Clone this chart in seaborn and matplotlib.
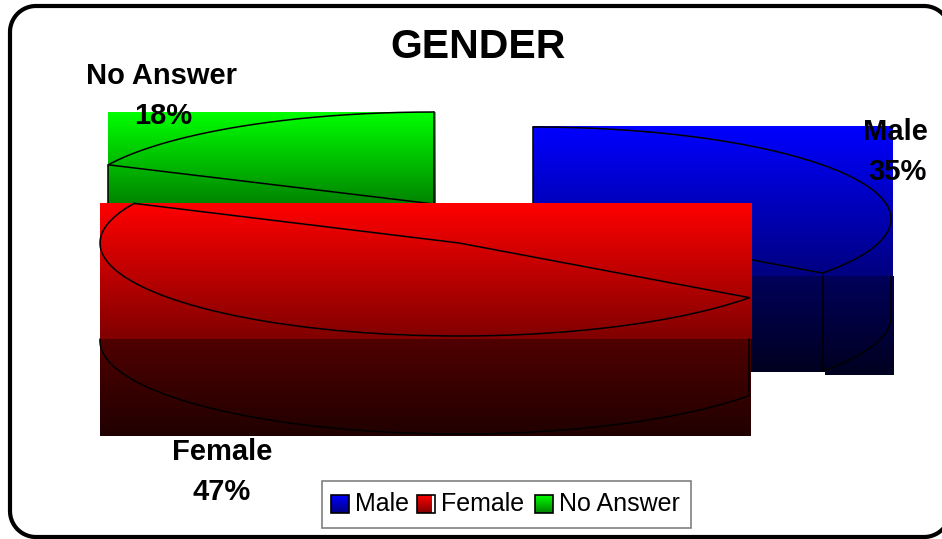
"""Recreate the GENDER exploded 3D pie chart."""

import matplotlib.pyplot as plt
import numpy as np
import seaborn as sns
from matplotlib.patches import Rectangle

categories = ["Male", "Female", "No Answer"]
shares = [35, 47, 18]
share_labels = ["35%", "47%", "18%"]
title = "GENDER"

# each slice: ellipse centre and radii in pixels, gradient colours
SLICES = {
    "Male": dict(cx=533, cy=219, rx=358, ry=92, top=("#0000ff", "#000080"), wall=("#00005a", "#000020")),
    "Female": dict(cx=459, cy=243, rx=359, ry=93, top=("#ff0000", "#800000"), wall=("#500000", "#200000")),
    "No Answer": dict(cx=434, cy=204, rx=360, ry=92, top=("#00ff00", "#008000"), wall=("#005a00", "#002000")),
}
LABEL_POS = {
    "Male": ((895, 132), (897, 172)),
    "Female": ((222, 452), (222, 492)),
    "No Answer": ((162, 76), (163, 116)),
}
DEPTH = 98
LW = 1.1

sns.set_theme(style="white")
plt.rcParams["font.family"] = ["Liberation Sans", "DejaVu Sans"]
plt.rcParams["text.color"] = "black"

fig = plt.figure(figsize=(9.42, 5.39), dpi=100)
ax = fig.add_axes([0, 0, 1, 1])
ax.axis("off")


def _gradient(x0, x1, y0, y1, colors, zorder):
    cmap = sns.blend_palette(colors, as_cmap=True)
    ax.imshow(
        np.linspace(0, 1, 256).reshape(-1, 1),
        extent=(x0, x1, y1, y0),
        cmap=cmap,
        aspect="auto",
        interpolation="bilinear",
        zorder=zorder,
    )


def _edge(x, y0, y1, zorder):
    ax.plot([x, x], [y0, y1], color="black", lw=LW, zorder=zorder)


def _slice(name, start, sweep, zorder):
    s = SLICES[name]
    t = np.radians(np.linspace(start, start + sweep, 200))
    x = s["cx"] + s["rx"] * np.cos(t)
    y = s["cy"] + s["ry"] * np.sin(t)

    left, right = min(x.min(), s["cx"]), max(x.max(), s["cx"])
    top, bottom = min(y.min(), s["cy"]), max(y.max(), s["cy"]) + 3

    # walls first, then the top face
    if name == "Male":
        seam = x[-1] + 2
        _gradient(left, seam, bottom, y[-1] + DEPTH + 1, s["wall"], zorder)
        _gradient(seam, right + 2, bottom, y[-1] + DEPTH + 4, s["wall"], zorder)
    else:
        _gradient(left, right + 1, bottom, y.max() + DEPTH + 2, s["wall"], zorder)
    _gradient(left, right + 2, top, bottom, s["top"], zorder)

    # bottom rim is only the front half of the ellipse
    front = y >= s["cy"]
    ax.plot(x[front], y[front] + DEPTH, color="black", lw=LW, zorder=zorder + 0.1)
    ax.plot(x, y, color="black", lw=LW, zorder=zorder + 0.2)
    ax.plot([x[0], s["cx"], x[-1]], [y[0], s["cy"], y[-1]], color="black", lw=LW, zorder=zorder + 0.2)

    if name == "Male":
        _edge(x[-1], bottom, y[-1] + DEPTH, zorder + 0.1)
        _edge(x.max(), bottom, s["cy"] + DEPTH, zorder + 0.1)
    elif name == "Female":
        _edge(x[0], bottom, y[0] + DEPTH, zorder + 0.1)
        _edge(x.min(), bottom, s["cy"] + DEPTH, zorder + 0.1)
    else:
        _edge(x[0], y[0], bottom, zorder + 0.1)


# first slice starts at twelve o'clock, angles run clockwise on screen
angle = 270
starts = {}
for name, share in zip(categories, shares):
    starts[name] = (angle, share * 3.6)
    angle += share * 3.6

_slice("Male", *starts["Male"], zorder=2)
_slice("No Answer", *starts["No Answer"], zorder=3)
_slice("Female", *starts["Female"], zorder=4)

for name, pct in zip(categories, share_labels):
    (x1, y1), (x2, y2) = LABEL_POS[name]
    ax.text(x1, y1, name, fontsize=21, fontweight="bold", ha="center", va="center", zorder=10)
    ax.text(x2, y2, pct, fontsize=21, fontweight="bold", ha="center", va="center", zorder=10)

ax.text(478, 47, title, fontsize=29.5, fontweight="bold", ha="center", va="center", zorder=10)

# legend box
ax.add_patch(Rectangle((322, 481), 369, 47, fc="white", ec="#808080", lw=1.2, zorder=8))
for name, sx, tx in zip(categories, (331, 417, 535), (355, 441, 559)):
    _gradient(sx, sx + 18, 495, 513, SLICES[name]["top"], 9)
    if name == "Female":
        ax.add_patch(Rectangle((sx + 15, 495), 3, 18, fc="white", ec="none", zorder=9.2))
    ax.add_patch(Rectangle((sx, 495), 18, 18, fc="none", ec="black", lw=1.2, zorder=9.5))
    ax.text(tx, 504, name, fontsize=18, ha="left", va="center", zorder=10)

# outer rounded frame as a polyline, its right side runs off the canvas
r = 26
fx0, fx1, fy0, fy1 = 10, 950, 6, 537
corners = [(fx1 - r, fy0 + r, -90), (fx1 - r, fy1 - r, 0), (fx0 + r, fy1 - r, 90), (fx0 + r, fy0 + r, 180)]
frame_x, frame_y = [], []
for cx, cy, a in corners:
    tt = np.radians(np.linspace(a, a + 90, 30))
    frame_x.extend(cx + r * np.cos(tt))
    frame_y.extend(cy + r * np.sin(tt))
frame_x.append(frame_x[0])
frame_y.append(frame_y[0])
ax.plot(frame_x, frame_y, color="black", lw=3.0, zorder=12)

ax.set_xlim(0, 942)
ax.set_ylim(539, 0)
fig.savefig("out.png", dpi=100)
